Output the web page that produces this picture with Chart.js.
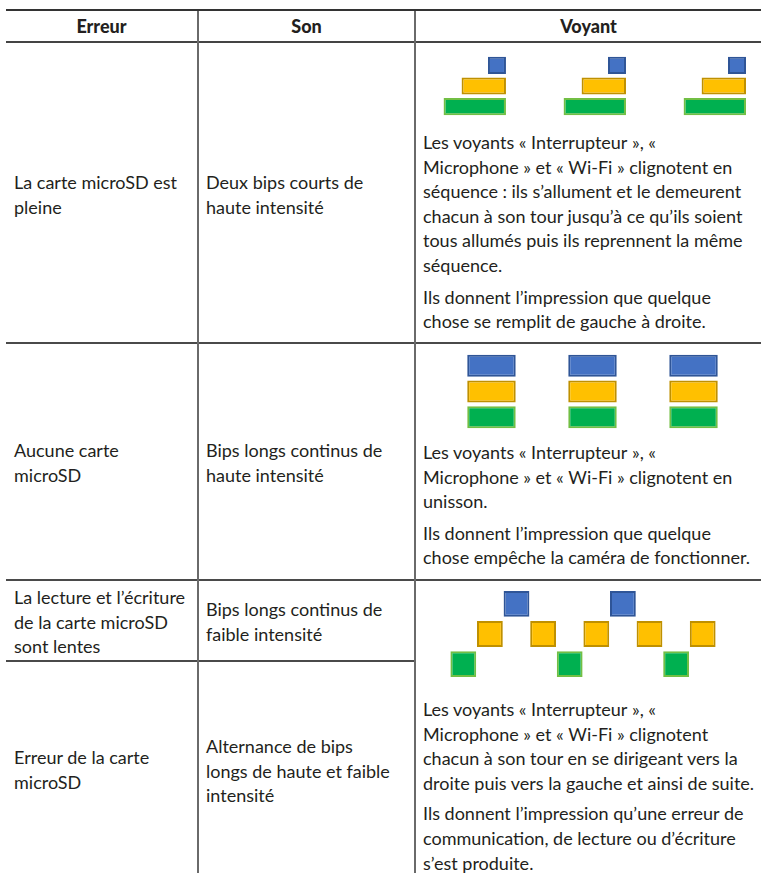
<!DOCTYPE html>
<html lang="fr">
<head>
<meta charset="utf-8">
<script src="https://cdn.jsdelivr.net/npm/chart.js@4.4.1/dist/chart.umd.min.js"></script>
<style>
  html, body { margin: 0; padding: 0; background: #fff; }
  body { width: 761px; height: 873px; position: relative; overflow: hidden;
         font-family: Lato, "Noto Sans", sans-serif; color: #231f20; font-size: 18px; }
  .hl, .vl { position: absolute; background: #4a4a4a; }
  .hl { height: 2px; }
  .vl { width: 2px; background: #6a6a6a; }
  .hd { position: absolute; top: 11px; height: 31px; line-height: 31px; text-align: center;
        font-weight: 900; font-size: 18px; }
  .cell { position: absolute; display: flex; align-items: center; white-space: nowrap; line-height: 24.6px; }
  .desc { position: absolute; left: 423px; white-space: nowrap; line-height: 24.6px; }
  .desc p { margin: 0 0 7px 0; }
  canvas { position: absolute; }
</style>
</head>
<body>
<div class="hl" style="left:6px;width:755px;top:9px;background:#333"></div>
<div class="hl" style="left:6px;width:755px;top:41px;background:#444"></div>
<div class="hl" style="left:6px;width:755px;top:342px"></div>
<div class="hl" style="left:6px;width:755px;top:579px"></div>
<div class="hl" style="left:6px;width:409px;top:660px"></div>
<div class="vl" style="left:197px;top:11px;height:862px"></div>
<div class="vl" style="left:414px;top:11px;height:862px"></div>

<div class="hd" style="left:6px;width:191px">Erreur</div>
<div class="hd" style="left:199px;width:215px">Son</div>
<div class="hd" style="left:416px;width:345px">Voyant</div>

<div class="cell" style="left:14px;top:44px;height:302px">La carte microSD est<br>pleine</div>
<div class="cell" style="left:206px;top:44px;height:302px">Deux bips courts de<br>haute intensité</div>
<div class="cell" style="left:14px;top:344px;height:238px">Aucune carte<br>microSD</div>
<div class="cell" style="left:206px;top:344px;height:238px">Bips longs continus de<br>haute intensité</div>
<div class="cell" style="left:14px;top:582px;height:80px">La lecture et l’écriture<br>de la carte microSD<br>sont lentes</div>
<div class="cell" style="left:206px;top:581px;height:81px">Bips longs continus de<br>faible intensité</div>
<div class="cell" style="left:14px;top:662px;height:215px">Erreur de la carte<br>microSD</div>
<div class="cell" style="left:206px;top:662px;height:218px">Alternance de bips<br>longs de haute et faible<br>intensité</div>

<canvas id="ledFill" width="346" height="62" style="left:415px;top:55px"></canvas>
<div class="desc" style="top:130px">
  <p>Les voyants «&#8239;Interrupteur&#8239;», «<br>Microphone&#8239;» et «&#8239;Wi-Fi&#8239;» clignotent en<br>séquence&#8239;: ils s’allument et le demeurent<br>chacun à son tour jusqu’à ce qu’ils soient<br>tous allumés puis ils reprennent la même<br>séquence.</p>
  <p>Ils donnent l’impression que quelque<br>chose se remplit de gauche à droite.</p>
</div>

<canvas id="ledUnison" width="346" height="77" style="left:415px;top:353px"></canvas>
<div class="desc" style="top:440px">
  <p>Les voyants «&#8239;Interrupteur&#8239;», «<br>Microphone&#8239;» et «&#8239;Wi-Fi&#8239;» clignotent en<br>unisson.</p>
  <p>Ils donnent l’impression que quelque<br>chose empêche la caméra de fonctionner.</p>
</div>

<canvas id="ledSweep" width="266" height="92" style="left:450px;top:588px"></canvas>
<div class="desc" style="top:697px">
  <p>Les voyants «&#8239;Interrupteur&#8239;», «<br>Microphone&#8239;» et «&#8239;Wi-Fi&#8239;» clignotent<br>chacun à son tour en se dirigeant vers la<br>droite puis vers la gauche et ainsi de suite.</p>
  <p style="margin-top:-1px">Ils donnent l’impression qu’une erreur de<br>communication, de lecture ou d’écriture<br>s’est produite.</p>
</div>

<script>
// voyants, du haut vers le bas
const ledNames = ['Interrupteur', 'Microphone', 'Wi-Fi'];
const ledFill = ['#4472C4', '#FFC000', '#00B050'];
const ledEdge = ['#2F5597', '#BF9000', '#72BF44'];

// carte pleine : trois images, barres alignées à droite
const fillFrames = [1, 2, 3];
const fillLengths = [0.15, 0.37, 0.52];

// aucune carte : les trois voyants ensemble, trois fois
const unisonFrames = [1, 2, 3];
const unisonHalf = 0.24;

// lecture lente / erreur : aller-retour
const sweepSteps = ['1', '2', '3', '4', '5', '6', '7', '8', '9', '10'];
const sweepLed = ['Wi-Fi', 'Microphone', 'Interrupteur', 'Microphone', 'Wi-Fi',
                  'Microphone', 'Interrupteur', 'Microphone', 'Wi-Fi', 'Microphone'];
const sweepHalf = 0.43;

const $ = (id) => document.getElementById(id);

const baseOpts = {
    responsive: false,
    animation: false,
    devicePixelRatio: 1,
    layout: { padding: 0 },
    plugins: { legend: { display: false }, tooltip: { enabled: false } }
};

function ledBar(data, colors) {
    return {
        data,
        backgroundColor: colors.map(i => ledFill[i]),
        borderColor: colors.map(i => ledEdge[i]),
        borderWidth: 2,
        borderSkipped: false,
        grouped: false,
        categoryPercentage: 1
    };
}

const idx = ledNames.map((_, i) => i);

new Chart($('ledFill'), {
    type: 'bar',
    data: {
        labels: ledNames,
        datasets: fillFrames.map(f => ({
            ...ledBar(fillLengths.map(len => [f - len, f]), idx),
            barPercentage: 0.83
        }))
    },
    options: {
        ...baseOpts,
        indexAxis: 'y',
        scales: {
            x: { type: 'linear', display: false, min: 0.242, max: 3.125 },
            y: { display: false }
        }
    }
});

new Chart($('ledUnison'), {
    type: 'bar',
    data: {
        labels: ledNames,
        datasets: unisonFrames.map(f => ({
            ...ledBar(ledNames.map(() => [f - unisonHalf, f + unisonHalf]), idx),
            barPercentage: 0.86
        }))
    },
    options: {
        ...baseOpts,
        indexAxis: 'y',
        scales: {
            x: { type: 'linear', display: false, min: 0.243, max: 3.668 },
            y: { display: false }
        }
    }
});

const sweepIdx = sweepLed.map(n => ledNames.indexOf(n));
new Chart($('ledSweep'), {
    type: 'bar',
    data: {
        labels: sweepSteps,
        datasets: [{
            ...ledBar(sweepIdx.map(i => {
                const lvl = ledNames.length - 1 - i;
                return [lvl - sweepHalf, lvl + sweepHalf];
            }), sweepIdx),
            barPercentage: 0.97
        }]
    },
    options: {
        ...baseOpts,
        scales: {
            x: { display: false },
            y: { type: 'linear', display: false, min: -0.53, max: 2.53 }
        }
    }
});
</script>
</body>
</html>
